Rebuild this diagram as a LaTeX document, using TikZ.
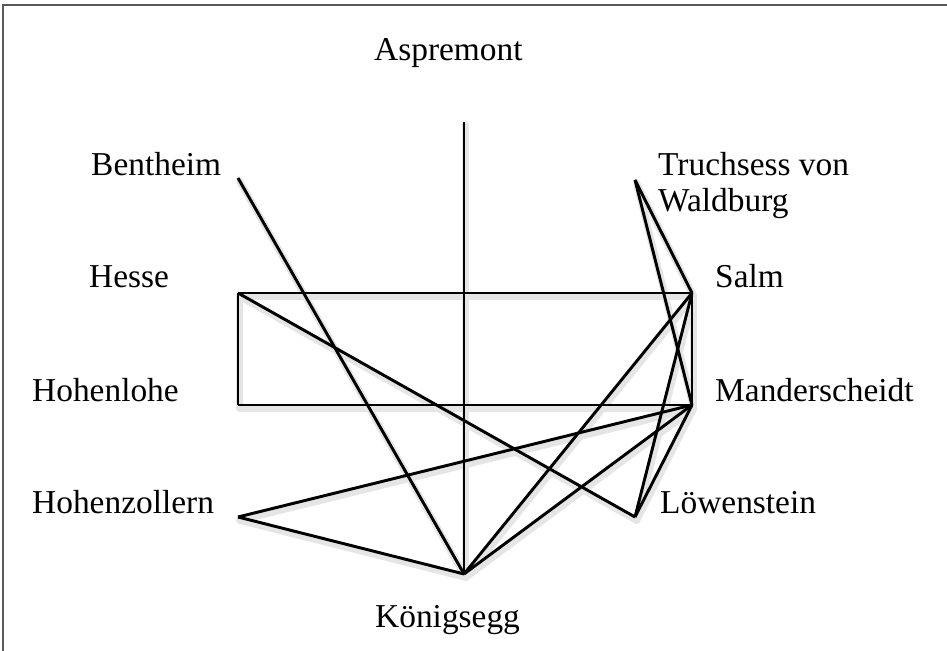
\documentclass[tikz,border=0pt]{standalone}
\usepackage{fontspec}
\setmainfont{Liberation Serif}
\usepackage{tikz}

\tikzset{
  house/.style={anchor=base west, inner sep=0pt, font=\fontsize{28.5}{31.5}\selectfont},
  tie/.style={line width=2.5pt, black},
  tieshadow/.style={line width=6pt, black!10, line cap=round},
}

\begin{document}
\begin{tikzpicture}[x=0.03cm, y=-0.03cm]
  % page area and the grey frame lines at top and left
  \useasboundingbox (0,0) rectangle (947,651);
  \draw[line width=1.6pt, black!65] (947,5) -- (3,5) -- (3,651);

  % end points of the ties
  \coordinate (asp) at (464,122);
  \coordinate (ben) at (238,178);
  \coordinate (tru) at (635,180);
  \coordinate (hes) at (238,293);
  \coordinate (sal) at (692,293);
  \coordinate (hoh) at (238,405);
  \coordinate (man) at (692,405);
  \coordinate (hoz) at (238,517);
  \coordinate (low) at (635,517);
  \coordinate (kon) at (464,574);

  % house names
  \node[house] (aspL) at (374,61)  {Aspremont};
  \node[house] (benL) at (91,176)  {Bentheim};
  \node[house, align=left] (truL) at (658,212) {Truchsess von\\Waldburg};
  \node[house] (hesL) at (89,288)  {Hesse};
  \node[house] (salL) at (715,288) {Salm};
  \node[house] (hohL) at (32,401)  {Hohenlohe};
  \node[house] (manL) at (715,401) {Manderscheidt};
  \node[house] (hozL) at (32,513)  {Hohenzollern};
  \node[house] (lowL) at (660,513) {Löwenstein};
  \node[house] (konL) at (375,627) {Königsegg};

  % soft shadow under the ties
  \begin{scope}[transform canvas={xshift=0.05cm, yshift=-0.1cm}]
    \foreach \a/\b in {hes/sal, hes/hoh, hoh/man, sal/man, hes/low,
                       ben/kon, asp/kon, tru/sal, tru/man, low/sal,
                       low/man, sal/kon, man/kon, hoz/man, hoz/kon}
      \draw[tieshadow] (\a) -- (\b);
  \end{scope}

  % the ties
  \foreach \a/\b in {hes/sal, hes/hoh, hoh/man, sal/man, hes/low,
                     ben/kon, asp/kon, tru/sal, tru/man, low/sal,
                     low/man, sal/kon, man/kon, hoz/man, hoz/kon}
    \draw[tie] (\a) -- (\b);
\end{tikzpicture}
\end{document}
